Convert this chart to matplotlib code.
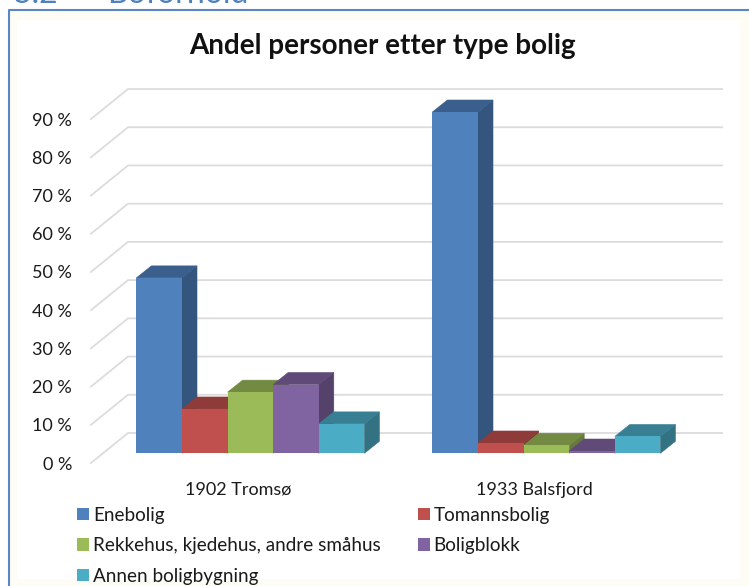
import matplotlib
matplotlib.use("Agg")
import matplotlib.pyplot as plt
from matplotlib.patches import Polygon, Rectangle
from matplotlib.colors import to_rgb

plt.rcParams['font.family'] = ['Lato', 'DejaVu Sans']

# Data
places = ["1902 Tromsø", "1933 Balsfjord"]
types = ["Enebolig", "Tomannsbolig", "Rekkehus, kjedehus, andre småhus",
         "Boligblokk", "Annen boligbygning"]
enebolig = [45.9, 89.3]
tomannsbolig = [11.6, 2.7]
rekkehus = [16.0, 2.1]
boligblokk = [18.0, 0.6]
annen = [7.7, 4.4]
series = [enebolig, tomannsbolig, rekkehus, boligblokk, annen]
colors = ["#4F81BD", "#C0504D", "#9BBB59", "#8064A2", "#4BACC6"]
yticks = list(range(0, 100, 10))

W, H = 749, 586
fig = plt.figure(figsize=(W / 100, H / 100), dpi=100)
fig.patch.set_facecolor("white")


def fx(px):
    return px / W


def fy(py):
    return 1 - py / H


# Chart frame, open on the right and at the bottom like the cropped original
fig.add_artist(Rectangle((fx(9), 0), 1 - fx(9), fy(10), transform=fig.transFigure,
                         facecolor="#fdfdf6", edgecolor="none", zorder=-3))
fig.add_artist(Rectangle((fx(17), fy(579)), fx(740 - 17), fy(20) - fy(579),
                         transform=fig.transFigure, facecolor="white", edgecolor="none", zorder=-2))
fig.add_artist(plt.Line2D([fx(9), fx(9), 1], [0, fy(10), fy(10)], transform=fig.transFigure,
                          color="#5B86C4", lw=1.5, zorder=-1))

# Heading from the page, cut off by the crop
fig.text(fx(13), fy(3), "5.2", color="#4F81BD", fontsize=23, va="baseline")
fig.text(fx(107), fy(3), "Boforhold", color="#4F81BD", fontsize=23, va="baseline")

# Axes run along the front edge of the floor
left, right, floor, top = 91, 722, 463, 80
ax = fig.add_axes([fx(left), fy(floor), fx(right - left), fy(top) - fy(floor)])
ax.patch.set_alpha(0)
px_per_group = 296.0
px_per_pct = 3.822
ax.set_xlim((left - 238) / px_per_group, (right - 238) / px_per_group)
ax.set_ylim(0, (floor - top) / px_per_pct)
for s in ax.spines.values():
    s.set_visible(False)

# Wall and floor gridlines
wall_dx = 37 / px_per_group
wall_dy = 30 / px_per_pct
xmin, xmax = ax.get_xlim()
for v in yticks:
    ax.plot([xmin, xmin + wall_dx, xmax], [v, v + wall_dy, v + wall_dy],
            color="#dcdcdc", lw=1.3, zorder=1, clip_on=False)

# Bars, left to right so later ones overlap the side of earlier ones
bar_w = 45.6 / px_per_group
shift = 12.4 / px_per_group
lift = (floor - 453.3) / px_per_pct
dx = 15 / px_per_group
dy = 12 / px_per_pct
z = 2
handles = []
for g in range(len(places)):
    for j, vals in enumerate(series):
        x0 = g + shift + (j - 2.5) * bar_w
        x1 = x0 + bar_w
        y0 = lift
        y1 = lift + vals[g]
        c = to_rgb(colors[j])
        top_c = tuple(k * 0.74 for k in c)
        side_c = tuple(k * 0.66 for k in c)
        ax.add_patch(Polygon([(x1, y0), (x1 + dx, y0 + dy), (x1 + dx, y1 + dy), (x1, y1)],
                             facecolor=side_c, edgecolor=side_c, lw=0.4, zorder=z, clip_on=False))
        ax.add_patch(Polygon([(x0, y1), (x0 + dx, y1 + dy), (x1 + dx, y1 + dy), (x1, y1)],
                             facecolor=top_c, edgecolor=top_c, lw=0.4, zorder=z, clip_on=False))
        b = ax.bar(x0, vals[g], width=bar_w, bottom=lift, align="edge", color=colors[j], zorder=z)
        if g == 0:
            handles.append(b)
        z += 1

ax.set_yticks(yticks)
ax.set_yticklabels([f"{v} %" for v in yticks], fontsize=13, color="#1a1a1a")
ax.set_xticks(range(len(places)))
ax.set_xticklabels(places, fontsize=13, color="#1a1a1a")
ax.tick_params(axis="y", length=0, pad=13.5)
ax.tick_params(axis="x", length=0, pad=13.5)

fig.text(fx(382.5), fy(46), "Andel personer etter type bolig", ha="center", va="center",
         fontsize=20, fontweight="bold", color="#111111")

# Legend fills columns first, the original reads row by row
order = [0, 2, 4, 1, 3]
ax.legend([handles[i] for i in order], [types[i] for i in order],
          loc="upper left", bbox_to_anchor=(fx(77), fy(506.5)), bbox_transform=fig.transFigure,
          ncol=2, frameon=False, fontsize=13.6, handlelength=0.65, handleheight=0.65,
          handletextpad=0.2, labelspacing=0.72, columnspacing=1.95, borderpad=0,
          borderaxespad=0, labelcolor="#1a1a1a")

plt.savefig("out.png", dpi=100)
